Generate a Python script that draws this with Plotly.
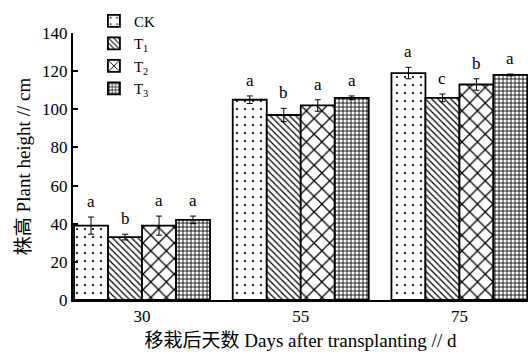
import plotly.graph_objects as go

# Days after transplanting
days = ["30", "55", "75"]
treatments = ["CK", "T<sub>1</sub>", "T<sub>2</sub>", "T<sub>3</sub>"]

# Mean plant height (cm) per treatment at each sampling day
height_ck = [39, 105, 119]
height_t1 = [33, 97, 106]
height_t2 = [39, 102, 113]
height_t3 = [42, 106, 118]

# Standard errors
err_ck = [4.5, 2, 3]
err_t1 = [1.5, 3.5, 2]
err_t2 = [5, 3, 3]
err_t3 = [2, 1, 0.5]

# Significance letters
sig_ck = ["a", "a", "a"]
sig_t1 = ["b", "b", "c"]
sig_t2 = ["a", "a", "b"]
sig_t3 = ["a", "a", "a"]

heights = [height_ck, height_t1, height_t2, height_t3]
errors = [err_ck, err_t1, err_t2, err_t3]
letters = [sig_ck, sig_t1, sig_t2, sig_t3]

patterns = [
    dict(shape=".", size=8, solidity=0.06),
    dict(shape="\\", size=4.5, solidity=0.28),
    dict(shape="x", size=11, solidity=0.22),
    dict(shape="+", size=4, solidity=0.38),
]

SERIF = "Liberation Serif, Noto Sans CJK SC, serif"
bargap = 0.143
n = len(treatments)
xpos = list(range(len(days)))

fig = go.Figure()
for i in range(n):
    p = patterns[i]
    fig.add_trace(go.Bar(
        x=xpos, y=heights[i], name=treatments[i],
        marker=dict(
            color="white",
            line=dict(color="black", width=1.8),
            pattern=dict(shape=p["shape"], size=p["size"], solidity=p["solidity"],
                         fgcolor="black", bgcolor="white", fillmode="replace"),
        ),
        error_y=dict(type="data", array=errors[i], color="black", thickness=1, width=3),
    ))

# letters above each error bar
bw = (1 - bargap) / n
for i in range(n):
    off = -(1 - bargap) / 2 + bw * (i + 0.5)
    for j, x in enumerate(xpos):
        fig.add_annotation(
            x=x + off, y=heights[i][j] + errors[i][j], text=letters[i][j],
            showarrow=False, yanchor="bottom", yshift=4,
            font=dict(family=SERIF, size=17, color="black"),
        )

fig.update_layout(
    width=528, height=355,
    margin=dict(l=73, r=0, t=33, b=55),
    paper_bgcolor="white", plot_bgcolor="white",
    barmode="group", bargap=bargap, bargroupgap=0,
    font=dict(family=SERIF, size=17, color="black"),
    showlegend=True,
    legend=dict(
        x=0.046, y=1.106, xanchor="left", yanchor="top",
        bgcolor="rgba(0,0,0,0)", font=dict(family=SERIF, size=15),
        tracegroupgap=0, itemwidth=30,
    ),
    xaxis=dict(
        range=[-0.435, 2.432], tickvals=xpos, ticktext=days,
        showline=True, linecolor="black", linewidth=2,
        ticks="", showgrid=False, zeroline=False,
        title=dict(text="移栽后天数 Days after transplanting // d",
                   font=dict(family=SERIF, size=19), standoff=8),
    ),
    yaxis=dict(
        range=[0, 140], tickvals=[0, 20, 40, 60, 80, 100, 120, 140],
        showline=True, linecolor="black", linewidth=2,
        ticks="inside", ticklen=5, tickwidth=2, tickcolor="black",
        showgrid=False, zeroline=False,
        title=dict(text="株高 Plant height // cm",
                   font=dict(family=SERIF, size=19), standoff=6),
    ),
)

fig.write_html("out.html")
